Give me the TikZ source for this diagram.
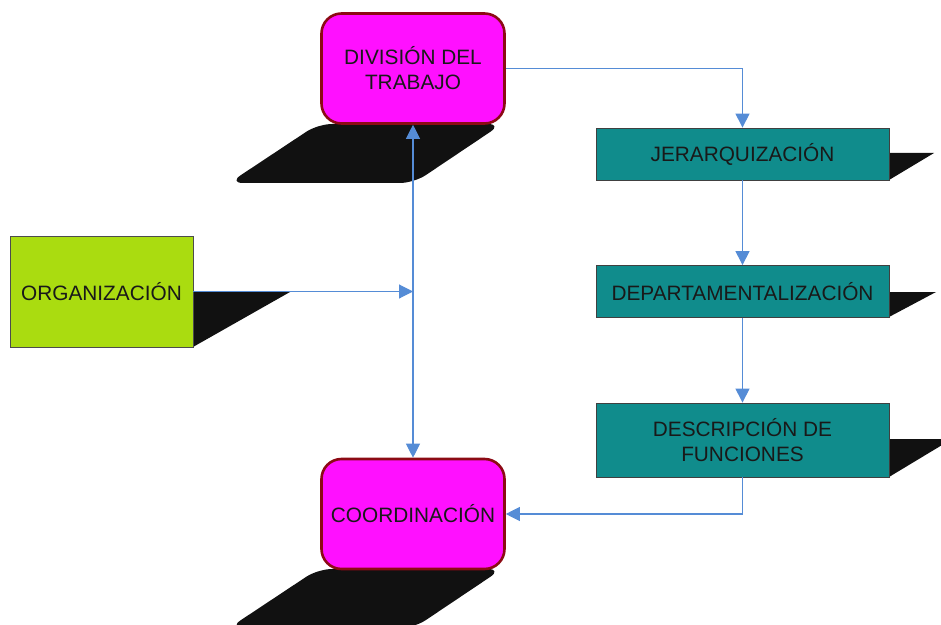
\documentclass[tikz,border=0pt]{standalone}
\usepackage{fontspec}
\setmainfont{Liberation Sans}
\usetikzlibrary{arrows.meta}
\definecolor{magentabox}{RGB}{255,16,255}
\definecolor{magentaedge}{RGB}{140,10,20}
\definecolor{limebox}{RGB}{170,220,16}
\definecolor{tealbox}{RGB}{16,140,140}
\definecolor{shadowfill}{RGB}{17,17,17}
\definecolor{linkblue}{RGB}{85,140,214}
\tikzset{
  boxtext/.style={align=center, text=black!90, inner sep=0pt,
    font=\fontsize{20.8bp}{25bp}\selectfont},
  keybox/.style={boxtext, draw=magentaedge, fill=magentabox, line width=2.6bp,
    rounded corners=20bp, minimum width=183bp, minimum height=110bp},
  startbox/.style={boxtext, draw=black!70, fill=limebox, line width=0.8bp,
    minimum width=183bp, minimum height=111bp},
  stagebox/.style={boxtext, draw=black!75, fill=tealbox, line width=0.8bp,
    minimum width=293bp},
  shade/.style={fill=shadowfill, draw=none},
  link/.style={draw=linkblue, line width=1.1bp},
  tip/.style={-{Triangle[width=14bp,length=14bp]}},
}
\begin{document}
\begin{tikzpicture}[x=1bp,y=-1bp]
\useasboundingbox (0,0) rectangle (941,625);

% cast shadows behind the boxes
\fill[shade, rounded corners=14bp] (318,124) -- (502,124) -- (414,183) -- (229,183) -- cycle;
\fill[shade, rounded corners=14bp] (318,569) -- (502,569) -- (414,628) -- (229,628) -- cycle;
\fill[shade] (185,292) -- (290,292) -- (193,347) -- (185,347) -- cycle;
\fill[shade] (880,153) -- (934,153) -- (889,180) -- (880,180) -- cycle;
\fill[shade] (880,292) -- (936,292) -- (889,317) -- (880,317) -- cycle;
\fill[shade] (880,439) -- (952,439) -- (889,477) -- (880,477) -- cycle;

% boxes
\node[keybox] (div) at (413,68.5) {DIVISIÓN DEL\\TRABAJO};
\node[keybox] (coord) at (413,514) {COORDINACIÓN};
\node[startbox] (org) at (101.5,291.5) {ORGANIZACIÓN};
\node[stagebox, minimum height=52bp] (jer) at (742.5,154) {JERARQUIZACIÓN};
\node[stagebox, minimum height=52bp] (dep) at (742.5,291.5) {DEPARTAMENTALIZACIÓN};
\node[stagebox, minimum height=74bp] (des) at (742.5,440) {DESCRIPCIÓN DE\\FUNCIONES};

% connectors
\coordinate (hub) at (413,291.5);
\draw[link, tip] (div.east) -| (jer.north);
\draw[link, tip] (jer.south) -- (dep.north);
\draw[link, tip] (dep.south) -- (des.north);
\draw[link, tip] (des.south) |- (coord.east);
\draw[link, tip] (org.east) -- (hub);
\draw[link, tip] (hub) -- (div.south);
\draw[link, tip] (hub) -- (coord.north);
\end{tikzpicture}
\end{document}
